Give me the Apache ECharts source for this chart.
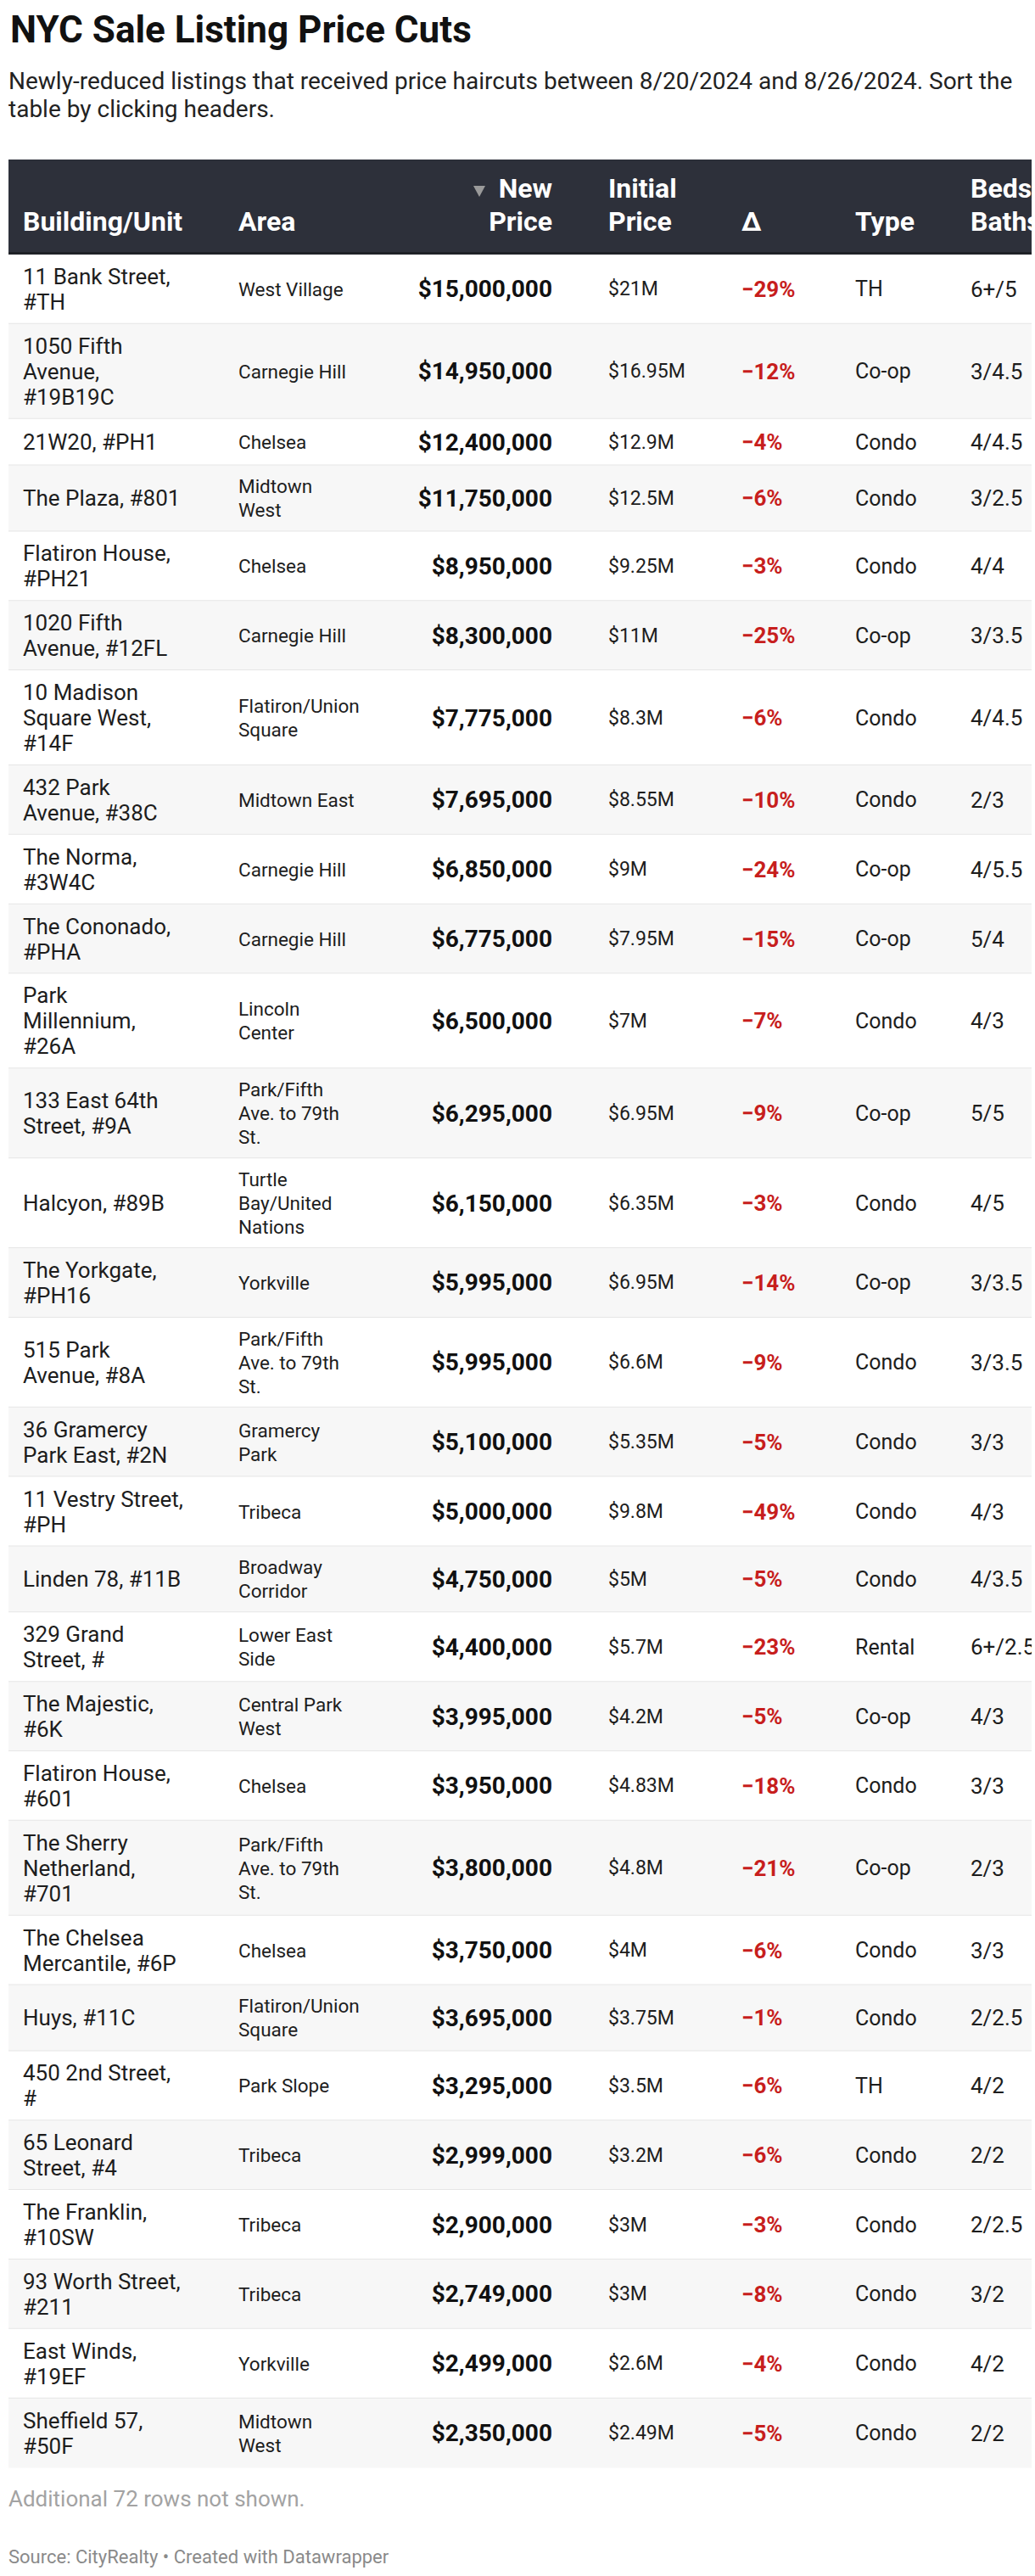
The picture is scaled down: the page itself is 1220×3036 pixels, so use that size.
<!DOCTYPE html>
<html>
<head>
<meta charset="utf-8">
<script src="https://cdn.jsdelivr.net/npm/echarts@6/dist/echarts.min.js"></script>
<style>
  html, body { margin: 0; padding: 0; background: #ffffff; }
  #chart { width: 1220px; height: 3036px; }
</style>
</head>
<body>
<div id="chart"></div>
<script>
// ---------------- DATA ----------------
const titleText = 'NYC Sale Listing Price Cuts';
const subtitleText = 'Newly-reduced listings that received price haircuts between 8/20/2024 and 8/26/2024. Sort the\ntable by clicking headers.';
const notesText = 'Additional 72 rows not shown.';
const sourceText = 'Source: CityRealty \u2022 Created with Datawrapper';

const headers = ['Building/Unit', 'Area', 'New\nPrice', 'Initial\nPrice', '\u0394', 'Type', 'Beds/\nBaths'];

const buildings = [
  '11 Bank Street,\n#TH', '1050 Fifth\nAvenue,\n#19B19C', '21W20, #PH1', 'The Plaza, #801',
  'Flatiron House,\n#PH21', '1020 Fifth\nAvenue, #12FL', '10 Madison\nSquare West,\n#14F',
  '432 Park\nAvenue, #38C', 'The Norma,\n#3W4C', 'The Cononado,\n#PHA', 'Park\nMillennium,\n#26A',
  '133 East 64th\nStreet, #9A', 'Halcyon, #89B', 'The Yorkgate,\n#PH16', '515 Park\nAvenue, #8A',
  '36 Gramercy\nPark East, #2N', '11 Vestry Street,\n#PH', 'Linden 78, #11B', '329 Grand\nStreet, #',
  'The Majestic,\n#6K', 'Flatiron House,\n#601', 'The Sherry\nNetherland,\n#701',
  'The Chelsea\nMercantile, #6P', 'Huys, #11C', '450 2nd Street,\n#', '65 Leonard\nStreet, #4',
  'The Franklin,\n#10SW', '93 Worth Street,\n#211', 'East Winds,\n#19EF', 'Sheffield 57,\n#50F'
];

const areas = [
  'West Village', 'Carnegie Hill', 'Chelsea', 'Midtown\nWest', 'Chelsea', 'Carnegie Hill',
  'Flatiron/Union\nSquare', 'Midtown East', 'Carnegie Hill', 'Carnegie Hill', 'Lincoln\nCenter',
  'Park/Fifth\nAve. to 79th\nSt.', 'Turtle\nBay/United\nNations', 'Yorkville', 'Park/Fifth\nAve. to 79th\nSt.',
  'Gramercy\nPark', 'Tribeca', 'Broadway\nCorridor', 'Lower East\nSide', 'Central Park\nWest', 'Chelsea',
  'Park/Fifth\nAve. to 79th\nSt.', 'Chelsea', 'Flatiron/Union\nSquare', 'Park Slope', 'Tribeca',
  'Tribeca', 'Tribeca', 'Yorkville', 'Midtown\nWest'
];

const newPrices = [
  15000000, 14950000, 12400000, 11750000, 8950000, 8300000, 7775000, 7695000, 6850000, 6775000,
  6500000, 6295000, 6150000, 5995000, 5995000, 5100000, 5000000, 4750000, 4400000, 3995000,
  3950000, 3800000, 3750000, 3695000, 3295000, 2999000, 2900000, 2749000, 2499000, 2350000
];

// initial price, millions of dollars
const initialPrices = [
  21, 16.95, 12.9, 12.5, 9.25, 11, 8.3, 8.55, 9, 7.95,
  7, 6.95, 6.35, 6.95, 6.6, 5.35, 9.8, 5, 5.7, 4.2,
  4.83, 4.8, 4, 3.75, 3.5, 3.2, 3, 3, 2.6, 2.49
];

// change, percent
const deltas = [
  -29, -12, -4, -6, -3, -25, -6, -10, -24, -15,
  -7, -9, -3, -14, -9, -5, -49, -5, -23, -5,
  -18, -21, -6, -1, -6, -6, -3, -8, -4, -5
];

const types = [
  'TH', 'Co-op', 'Condo', 'Condo', 'Condo', 'Co-op', 'Condo', 'Condo', 'Co-op', 'Co-op',
  'Condo', 'Co-op', 'Condo', 'Co-op', 'Condo', 'Condo', 'Condo', 'Condo', 'Rental', 'Co-op',
  'Condo', 'Co-op', 'Condo', 'Condo', 'TH', 'Condo', 'Condo', 'Condo', 'Condo', 'Condo'
];

const bedsBaths = [
  '6+/5', '3/4.5', '4/4.5', '3/2.5', '4/4', '3/3.5', '4/4.5', '2/3', '4/5.5', '5/4',
  '4/3', '5/5', '4/5', '3/3.5', '3/3.5', '3/3', '4/3', '4/3.5', '6+/2.5', '4/3',
  '3/3', '2/3', '3/3', '2/2.5', '4/2', '2/2', '2/2.5', '3/2', '4/2', '2/2'
];

// ---------------- LAYOUT ----------------
const FONT = 'Roboto, "Noto Sans", sans-serif';
const TABLE_LEFT = 10, TABLE_RIGHT = 1216;
const HEADER_TOP = 188, HEADER_BOTTOM = 297, BODY_TOP = 300;
const colX = { building: 27, area: 281, newPrice: 651, initPrice: 717, delta: 874, type: 1008, beds: 1144 };
const headerX = [27, 281, 651, 717, 874, 1008, 1144];
const headerAlign = ['left', 'left', 'right', 'left', 'left', 'left', 'left'];
const BLD_LH = 30, AREA_LH = 28, PAD = 21.85;

const n = buildings.length;
const rowHeights = buildings.map((b, i) => {
  const nb = b.split('\n').length;
  const na = areas[i].split('\n').length;
  return PAD + Math.max(nb * BLD_LH, na * AREA_LH, 33);
});
const rowTops = [];
let acc = BODY_TOP;
rowHeights.forEach(h => { rowTops.push(acc); acc += h; });
const tableBottom = acc;

function fmtMoney(v) { return '$' + v.toLocaleString('en-US'); }
function fmtM(v) { return '$' + v + 'M'; }
function fmtDelta(v) { return (v < 0 ? '\u2212' : '+') + Math.abs(v) + '%'; }

function txt(text, x, y, font, fill, align, lh) {
  return {
    type: 'text',
    style: {
      text: text, x: x, y: y, font: font, fill: fill,
      align: align, verticalAlign: 'middle',
      textAlign: align, textVerticalAlign: 'middle',
      lineHeight: lh || undefined
    }
  };
}

const TEXT = '#1d1d1d';
const RED = '#c71e1d';

const chart = echarts.init(document.getElementById('chart'), null, { renderer: 'svg', width: 1220, height: 3036 });

const graphics = [];
// title + subtitle
graphics.push(Object.assign(txt(titleText, 12, 35, 'bold 44px ' + FONT, '#111111', 'left'), { z: 10 }));
graphics.push(Object.assign(txt(subtitleText, 10, 111.5, '28px ' + FONT, '#222222', 'left', 33), { z: 10 }));
// header background
graphics.push({ type: 'rect', z: 1, shape: { x: TABLE_LEFT, y: HEADER_TOP, width: TABLE_RIGHT - TABLE_LEFT, height: HEADER_BOTTOM - HEADER_TOP }, style: { fill: '#2d303a' } });
graphics.push({ type: 'rect', z: 1, shape: { x: TABLE_LEFT, y: HEADER_BOTTOM, width: TABLE_RIGHT - TABLE_LEFT, height: BODY_TOP - HEADER_BOTTOM }, style: { fill: '#1f2127' } });
headers.forEach((h, k) => {
  const lines = h.split('\n').length;
  const cy = 261 - (lines - 1) * 39 / 2;
  graphics.push(Object.assign(txt(h, headerX[k], cy, 'bold 32px ' + FONT, '#ffffff', headerAlign[k], 39), { z: 5 }));
});
// sort indicator
graphics.push({ type: 'polygon', z: 5, shape: { points: [[558, 219], [572, 219], [565, 232]] }, style: { fill: '#9a9a9a' } });
// footer
graphics.push(Object.assign(txt(notesText, 10, 2945, '26px ' + FONT, '#a3a3a3', 'left'), { z: 10 }));
graphics.push(Object.assign(txt(sourceText, 10, 3013, '22px ' + FONT, '#8a8a8a', 'left'), { z: 10 }));
// right-edge crop of the overflowing table
graphics.push({ type: 'rect', z: 100, shape: { x: TABLE_RIGHT, y: HEADER_TOP - 2, width: 1220 - TABLE_RIGHT + 4, height: tableBottom - HEADER_TOP + 4 }, style: { fill: '#ffffff' } });

chart.setOption({
  backgroundColor: '#ffffff',
  animation: false,
  graphic: { elements: graphics },
  series: [{
    type: 'custom',
    coordinateSystem: 'none',
    z: 2,
    data: buildings.map((b, i) => [i, newPrices[i], initialPrices[i], deltas[i]]),
    renderItem: function (params, api) {
      const i = params.dataIndex;
      const top = rowTops[i], h = rowHeights[i], cy = top + h / 2;
      const children = [];
      children.push({ type: 'rect', shape: { x: TABLE_LEFT, y: top, width: TABLE_RIGHT - TABLE_LEFT, height: h }, style: { fill: i % 2 ? '#f7f7f7' : '#ffffff' } });
      if (i < n - 1) {
        children.push({ type: 'rect', shape: { x: TABLE_LEFT, y: top + h - 1, width: TABLE_RIGHT - TABLE_LEFT, height: 2 }, style: { fill: '#e6e6e6' } });
      }
      children.push(txt(buildings[i], colX.building, cy, '26px ' + FONT, TEXT, 'left', BLD_LH));
      children.push(txt(areas[i], colX.area, cy, '22.5px ' + FONT, TEXT, 'left', AREA_LH));
      children.push(txt(fmtMoney(api.value(1)), colX.newPrice, cy, 'bold 28px ' + FONT, '#111111', 'right'));
      children.push(txt(fmtM(api.value(2)), colX.initPrice, cy, '23px ' + FONT, TEXT, 'left'));
      children.push(txt(fmtDelta(api.value(3)), colX.delta, cy, 'bold 26px ' + FONT, RED, 'left'));
      children.push(txt(types[i], colX.type, cy, '25px ' + FONT, TEXT, 'left'));
      children.push(txt(bedsBaths[i], colX.beds, cy, '26px ' + FONT, TEXT, 'left'));
      return { type: 'group', children: children };
    }
  }]
});
</script>
</body>
</html>
